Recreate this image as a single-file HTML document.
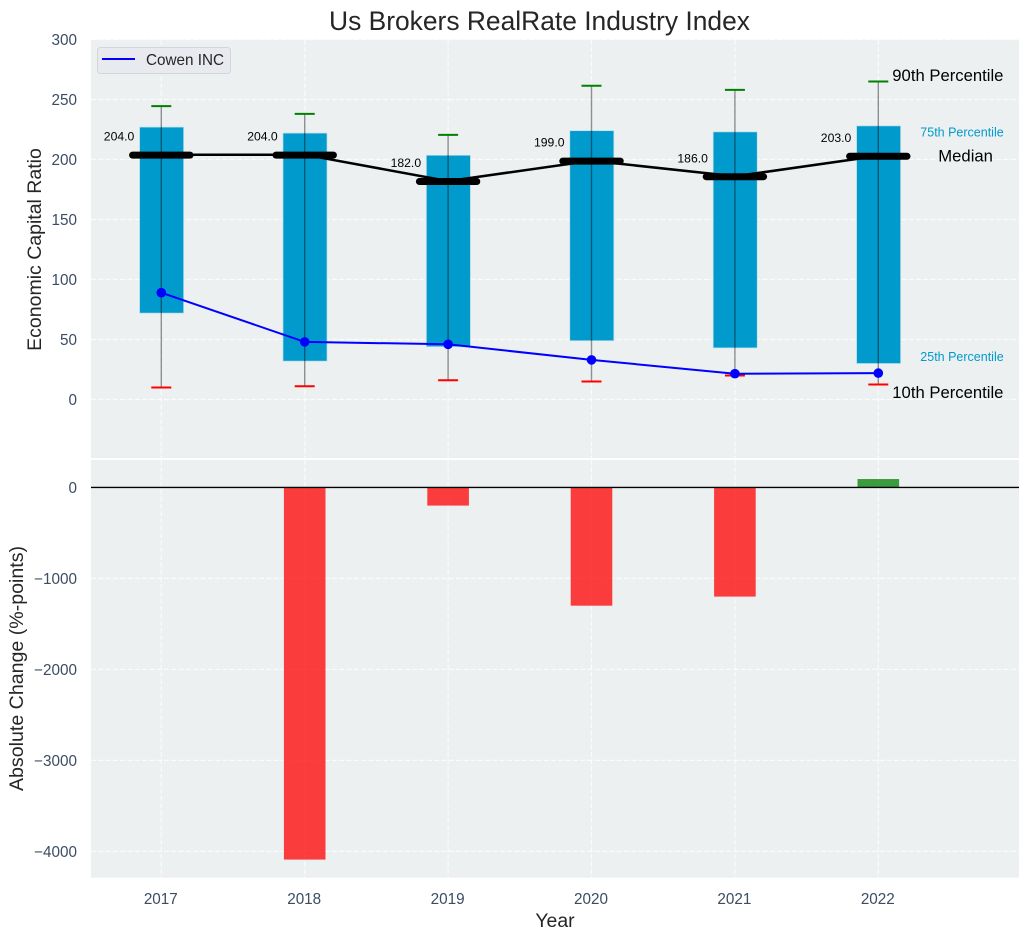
<!DOCTYPE html>
<html>
<head>
<meta charset="utf-8">
<title>Us Brokers RealRate Industry Index</title>
<style>
html,body{margin:0;padding:0;background:#fff;width:1029px;height:940px;overflow:hidden}
svg{display:block}
text{font-family:"Liberation Sans",Arial,sans-serif}
</style>
</head>
<body>
<svg id="chart" xmlns="http://www.w3.org/2000/svg" width="1029" height="940" viewBox="0 0 1029 940">
  <text x="539.5" y="30" text-anchor="middle" font-size="26.4" fill="#262626">Us Brokers RealRate Industry Index</text>
  <rect x="91" y="39.5" width="928" height="418.5" fill="#ecf0f1"/>
  <rect x="91" y="460" width="928" height="417.7" fill="#ecf0f1"/>
  <g id="bottom-layer"></g>
  <g id="top-layer"></g>
  <text transform="translate(41,249.5) rotate(-90)" text-anchor="middle" font-size="19.5" fill="#262626">Economic Capital Ratio</text>
  <text transform="translate(23,668.5) rotate(-90)" text-anchor="middle" font-size="19.6" fill="#262626">Absolute Change (%-points)</text>
  <text x="555" y="927" text-anchor="middle" font-size="19.44" fill="#262626">Year</text>
  <g>
    <rect x="97.5" y="47.5" width="133" height="26" rx="3" fill="#e9eaf0" stroke="#d3d5d9" stroke-width="1"/>
    <line x1="102" y1="59" x2="135" y2="59" stroke="#0000ff" stroke-width="2"/>
    <text x="146" y="65" font-size="15.28" fill="#262626">Cowen INC</text>
  </g>
</svg>
<script>
const years = [2017, 2018, 2019, 2020, 2021, 2022];
const p90 = [244.5, 238, 220.5, 261.5, 258, 265];
const p75 = [227, 222, 203.5, 224, 223, 228];
const median = [204, 204, 182, 199, 186, 203];
const p25 = [72, 32, 44, 49, 43, 30];
const p10 = [10, 11, 16, 15, 20, 12.5];
const cowen = [89, 48, 46, 33, 21.5, 22];
const absChange = [0, -4090, -200, -1300, -1200, 92];
const topTicks = [0, 50, 100, 150, 200, 250, 300];
const bottomTicks = [0, -1000, -2000, -3000, -4000];

const NS = 'http://www.w3.org/2000/svg';
const topLayer = document.getElementById('top-layer');
const bottomLayer = document.getElementById('bottom-layer');
const xAxis = function (year) { return 161.3 + 143.4 * (year - 2017); };
const yTop = function (v) { return 399.5 - 1.2 * v; };
const yBottom = function (v) { return 487.4 - 0.091 * v; };

function make(parent, tag, attrs, text) {
  const el = document.createElementNS(NS, tag);
  Object.keys(attrs).forEach(function (k) { el.setAttribute(k, attrs[k]); });
  if (text !== undefined) el.textContent = text;
  parent.appendChild(el);
  return el;
}
const gridStyle = { stroke: '#ffffff', 'stroke-width': 1.2, 'stroke-dasharray': '5.1 2.2', 'stroke-opacity': 0.75 };
function grid(parent, x1, y1, x2, y2) {
  return make(parent, 'line', Object.assign({ x1: x1, y1: y1, x2: x2, y2: y2 }, gridStyle));
}
function tickText(parent, x, y, anchor, s) {
  return make(parent, 'text', { x: x, y: y, 'text-anchor': anchor, 'font-size': 15.28, fill: '#3b4c63' }, s);
}

/* top axis ticks and grid */
topTicks.forEach(function (t) {
  const g = grid(topLayer, 91, yTop(t), 1019, yTop(t));
  
  
  const l = tickText(topLayer, 77, yTop(t) + 5.5, 'end', String(t));
  
  
});
/* bottom axis ticks and grid */
bottomTicks.forEach(function (t) {
  const g = grid(bottomLayer, 91, yBottom(t), 1019, yBottom(t));
  
  
  const l = tickText(bottomLayer, 77, yBottom(t) + 5.5, 'end', String(t).replace('-', '\u2212'));
  
  
});
/* x ticks and grid */
years.forEach(function (yr) {
  const x = xAxis(yr);
  const g1 = grid(topLayer, x, 39.5, x, 458);
  
  
  const g2 = grid(bottomLayer, x, 460, x, 877.7);
  
  
  const l = tickText(bottomLayer, x - 0.5, 904, 'middle', String(yr));
  
  
});

/* bottom bars */
years.forEach(function (yr, i) {
  const v = absChange[i];
  if (v === 0) return;
  const y0 = yBottom(0), y1 = yBottom(v);
  const bar = make(bottomLayer, 'rect', {
    x: xAxis(yr) - 20.8, y: Math.min(y0, y1), width: 41.6, height: Math.abs(y1 - y0),
    fill: v < 0 ? '#ff0000' : '#008000', 'fill-opacity': 0.75
  });
  
  
});
const zero = make(bottomLayer, 'line', { x1: 91, y1: yBottom(0), x2: 1019, y2: yBottom(0), stroke: '#000000', 'stroke-width': 1.4 });



/* percentile boxes and whiskers */
years.forEach(function (yr, i) {
  const x = xAxis(yr);
  const box = make(topLayer, 'rect', {
    x: x - 21.7, y: yTop(p75[i]), width: 44, height: yTop(p25[i]) - yTop(p75[i]),
    fill: '#009acd', stroke: '#b5dde9', 'stroke-width': 0.7
  });
  
  
  const whisker = make(topLayer, 'line', {
    x1: x, y1: yTop(p90[i]), x2: x, y2: yTop(p10[i]),
    stroke: '#000000', 'stroke-opacity': 0.42, 'stroke-width': 1.4
  });
  
  
  const capHi = make(topLayer, 'line', { x1: x - 10, y1: yTop(p90[i]), x2: x + 10, y2: yTop(p90[i]), stroke: '#008000', 'stroke-width': 2 });
  
  
  const capLo = make(topLayer, 'line', { x1: x - 10, y1: yTop(p10[i]), x2: x + 10, y2: yTop(p10[i]), stroke: '#ff0000', 'stroke-width': 2 });
  
  
});

/* cowen line */
const cowenPts = years.map(function (yr, i) { return xAxis(yr) + ',' + yTop(cowen[i]); }).join(' ');
const cowenLine = make(topLayer, 'polyline', { points: cowenPts, fill: 'none', stroke: '#0000ff', 'stroke-width': 2 });


years.forEach(function (yr, i) {
  const dot = make(topLayer, 'circle', { cx: xAxis(yr), cy: yTop(cowen[i]), r: 4.8, fill: '#0000ff' });
  
  
});

/* median line and bars */
const medianPts = years.map(function (yr, i) { return xAxis(yr) + ',' + yTop(median[i]); }).join(' ');
const medianLine = make(topLayer, 'polyline', { points: medianPts, fill: 'none', stroke: '#000000', 'stroke-width': 2.5 });


years.forEach(function (yr, i) {
  const x = xAxis(yr), y = yTop(median[i]);
  const seg = make(topLayer, 'line', { x1: x - 28.7, y1: y + 0.4, x2: x + 28.7, y2: y + 0.4, stroke: '#000000', 'stroke-width': 7, 'stroke-linecap': 'round' });
  
  
  const lab = make(topLayer, 'text', { x: x - 27, y: y - 14, 'text-anchor': 'end', 'font-size': 12.2, fill: '#000000' }, median[i].toFixed(1));
  
  
});

/* percentile annotations */
const last = years.length - 1;
const lastX = xAxis(years[last]);
const a90 = make(topLayer, 'text', { x: lastX + 14, y: yTop(p90[last]) - 0.5, 'font-size': 16.67, fill: '#000000' }, '90th Percentile');


const a75 = make(topLayer, 'text', { x: lastX + 42, y: yTop(p75[last]) + 10.5, 'font-size': 12.5, fill: '#009acd' }, '75th Percentile');


const aMed = make(topLayer, 'text', { x: lastX + 60, y: yTop(median[last]) + 5.5, 'font-size': 16.67, fill: '#000000' }, 'Median');


const a25 = make(topLayer, 'text', { x: lastX + 42, y: yTop(p25[last]) - 2.5, 'font-size': 12.5, fill: '#009acd' }, '25th Percentile');


const a10 = make(topLayer, 'text', { x: lastX + 14, y: yTop(p10[last]) + 13.5, 'font-size': 16.67, fill: '#000000' }, '10th Percentile');


</script>
</body>
</html>
